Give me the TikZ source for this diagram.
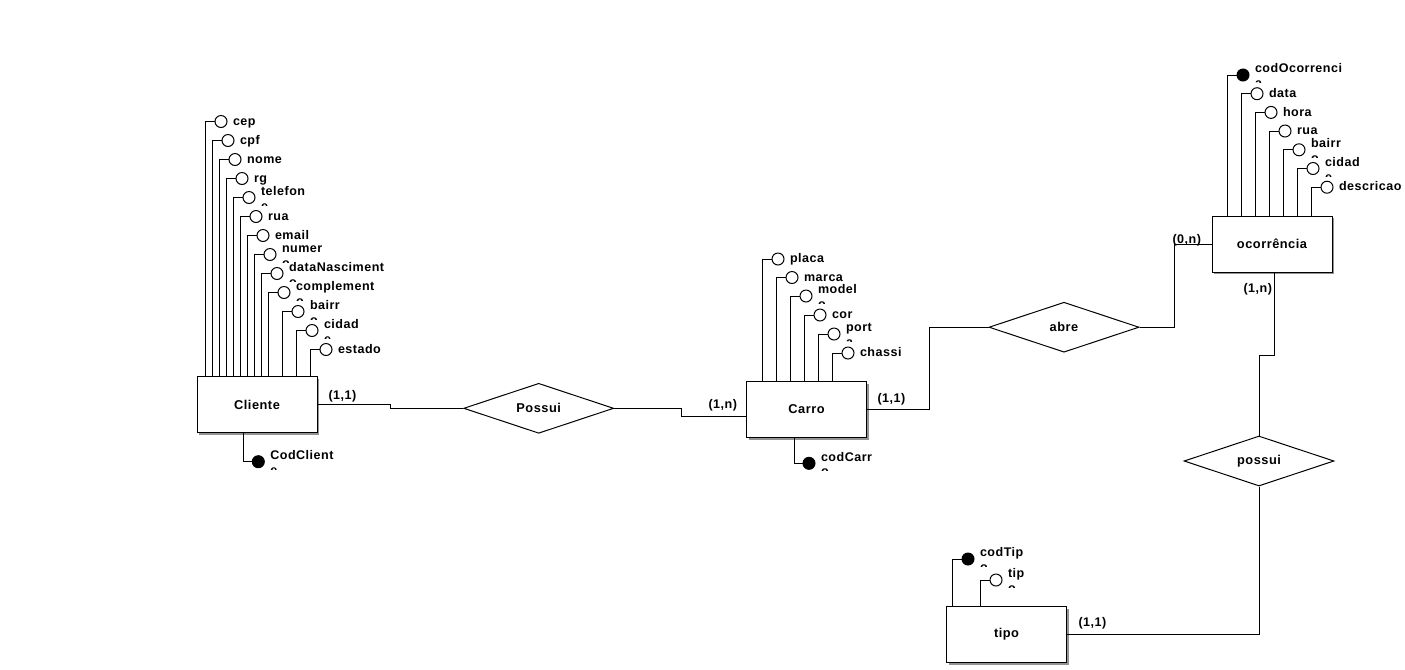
\documentclass[tikz,border=0pt]{standalone}
\usepackage{fontspec}
\setmainfont{Liberation Sans}[LetterSpace=4]
\usetikzlibrary{shapes.geometric,shadows}

% label beside an attribute circle: one line, or a line plus the top of a wrapped letter
\newcommand\attrlabel[5]{%
  \if\relax\detokenize{#5}\relax
    \node[lbl, anchor=base west] (#1-t) at (#2,#3+3.6) {#4};
  \else
    \node[lbl, anchor=base west] (#1-t) at (#2,#3-2.3) {#4};
    \begin{scope}
      \clip (#2-2,#3+5) rectangle (#2+20,#3+7.6);
      \node[lbl, anchor=base west] (#1-u) at (#2,#3+12.6) {#5};
    \end{scope}
  \fi
}
% attribute above an entity: name, entity, stem x, y, style, text, wrapped letter
\newcommand\attrabove[7]{%
  \node[#5] (#1) at (#3+16,#4) {};
  \draw (#2.north -| #3,0) |- (#1.west);
  \attrlabel{#1}{#3+27.5}{#4}{#6}{#7}%
}
% key attribute below an entity: name, entity, stem x, y, text, wrapped letter
\newcommand\keybelow[6]{%
  \node[keyattr] (#1) at (#3+15,#4) {};
  \draw (#2.south -| #3,0) |- (#1.west);
  \attrlabel{#1}{#3+26.5}{#4}{#5}{#6}%
}

\begin{document}
\begin{tikzpicture}[x=0.75pt,y=-0.75pt,line width=0.75pt,
  lbl/.style={font=\bfseries\fontsize{9.4}{10}\selectfont, inner sep=0pt, text=black},
  entity/.style={draw, fill=white, minimum width=90pt, minimum height=42pt, inner sep=0pt,
    font=\bfseries\fontsize{9.6}{10}\selectfont,
    general shadow={fill=gray!85, shadow xshift=1.6pt, shadow yshift=-1.6pt}},
  rel/.style={draw, diamond, aspect=3, minimum width=112.5pt, minimum height=37.5pt,
    inner sep=0pt, fill=white, font=\bfseries\fontsize{9.6}{10}\selectfont},
  attr/.style={draw, circle, minimum size=9pt, inner sep=0pt, fill=white},
  keyattr/.style={attr, fill=black},
  card/.style={lbl, anchor=base west}]

\fill[white] (0,0) rectangle (1405,669);
\useasboundingbox (0,0) rectangle (1405,669);

% entities
\node[entity] (cliente) at (257,404.5) {Cliente};
\node[entity] (carro) at (806.5,409.5) {Carro};
\node[entity] (ocorr) at (1272,244) {ocorrência};
\node[entity] (tipo) at (1006.5,634.5) {tipo};

% relationships
\node[rel] (possui1) at (538.7,408.3) {Possui};
\node[rel] (abre) at (1064,327.2) {abre};
\node[rel] (possui2) at (1259,461) {possui};

% Cliente attributes
\attrabove{cep}{cliente}{205}{121.5}{attr}{cep}{}
\attrabove{cpf}{cliente}{212}{140.5}{attr}{cpf}{}
\attrabove{nome}{cliente}{219}{159.5}{attr}{nome}{}
\attrabove{rg}{cliente}{226}{178.5}{attr}{rg}{}
\attrabove{telefone}{cliente}{233}{197.5}{attr}{telefon}{e}
\attrabove{ruacli}{cliente}{240}{216.5}{attr}{rua}{}
\attrabove{email}{cliente}{247}{235.5}{attr}{email}{}
\attrabove{numero}{cliente}{254}{254.5}{attr}{numer}{o}
\attrabove{datanasc}{cliente}{261}{273.5}{attr}{dataNasciment}{o}
\attrabove{complemento}{cliente}{268}{292.5}{attr}{complement}{o}
\attrabove{bairrocli}{cliente}{282}{311.5}{attr}{bairr}{o}
\attrabove{cidadecli}{cliente}{296}{330.5}{attr}{cidad}{e}
\attrabove{estado}{cliente}{310}{349.5}{attr}{estado}{}
\keybelow{codcliente}{cliente}{243.3}{461.7}{CodClient}{e}

% Carro attributes
\attrabove{placa}{carro}{762}{259}{attr}{placa}{}
\attrabove{marca}{carro}{776}{277.5}{attr}{marca}{}
\attrabove{modelo}{carro}{790}{296}{attr}{model}{o}
\attrabove{cor}{carro}{804}{315}{attr}{cor}{}
\attrabove{porta}{carro}{818}{334}{attr}{port}{a}
\attrabove{chassi}{carro}{832}{353}{attr}{chassi}{}
\keybelow{codcarro}{carro}{794}{463.3}{codCarr}{o}

% ocorrencia attributes
\attrabove{codocorr}{ocorr}{1227}{75}{keyattr}{codOcorrenci}{a}
\attrabove{data}{ocorr}{1241}{93.7}{attr}{data}{}
\attrabove{hora}{ocorr}{1255}{112.4}{attr}{hora}{}
\attrabove{ruaoc}{ocorr}{1269}{131}{attr}{rua}{}
\attrabove{bairrooc}{ocorr}{1283}{149.8}{attr}{bairr}{o}
\attrabove{cidadeoc}{ocorr}{1297}{168.5}{attr}{cidad}{e}
\attrabove{descricao}{ocorr}{1311}{187.2}{attr}{descricao}{}

% tipo attributes
\attrabove{codtipo}{tipo}{952}{559}{keyattr}{codTip}{o}
\attrabove{tipnome}{tipo}{980}{580}{attr}{tip}{o}

% connectors
\draw (cliente.east) -- ++(73,0) |- (possui1.west);
\draw (possui1.east) -- ++(67,0) |- ([yshift=-4.9pt]carro.west);
\draw (carro.east) -- ++(62,0) |- (abre.west);
\draw (abre.east) -- ++(35,0) |- (ocorr.west);
\draw ([xshift=1.7pt]ocorr.south) -- ++(0,83) -| (possui2.north);
\draw (possui2.south) |- (tipo.east);

% cardinalities
\node[card] (k1) at (328,399.5) {(1,1)};
\node[card] (k2) at (708,408.5) {(1,n)};
\node[card] (k3) at (877,402.5) {(1,1)};
\node[card] (k4) at (1172,243.5) {(0,n)};
\node[card] (k5) at (1243,292.5) {(1,n)};
\node[card] (k6) at (1078,626.5) {(1,1)};
\end{tikzpicture}
\end{document}
